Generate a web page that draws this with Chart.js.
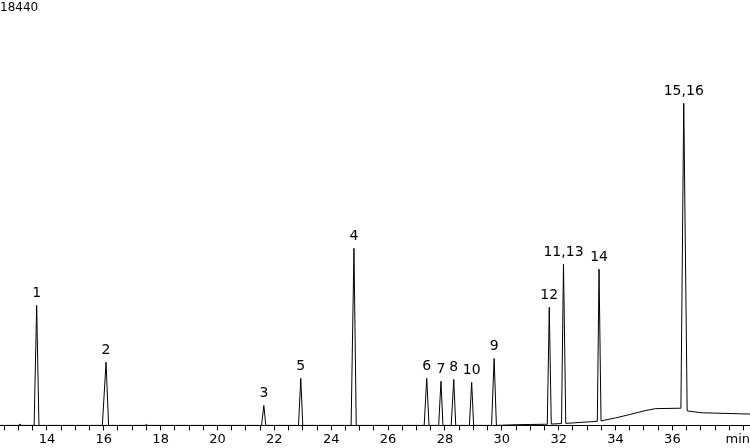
<!DOCTYPE html>
<html>
<head>
<meta charset="utf-8">
<script src="https://cdn.jsdelivr.net/npm/chart.js@4"></script>
<style>
  html, body { margin: 0; padding: 0; background: #fff; }
  #wrap { width: 750px; height: 448px; position: relative; }
</style>
</head>
<body>
<div id="wrap"><canvas id="chrom"></canvas></div>
<script>
// trace points: time (min) and signal
const traceTime = [12.35, 13.0, 13.05, 13.1, 13.55, 13.64, 13.72, 15.95, 16.08, 16.17, 17.45, 17.5, 17.55,
  21.55, 21.63, 21.7, 22.85, 22.93, 23.0, 24.7, 24.8, 24.88,
  27.27, 27.36, 27.44, 27.78, 27.86, 27.93, 28.22, 28.31, 28.38, 28.86, 28.94, 29.01, 29.64, 29.73, 29.81,
  30.5, 31.0, 31.5, 31.6, 31.67, 31.74, 32.1, 32.17, 32.25, 33.36, 33.42, 33.49,
  34.0, 34.5, 35.0, 35.4, 36.3, 36.4, 36.52, 37.0, 38.73];
const traceSignal = [0, 0, 60, 0, 0, 5300, 0, 0, 2790, 0, 0, 40, 0,
  0, 880, 0, 0, 2080, 0, 0, 7820, 0,
  0, 2080, 0, 0, 1950, 0, 0, 2030, 0, 0, 1900, 0, 0, 2960, 0,
  30, 40, 50, 50, 5220, 60, 80, 7120, 90, 180, 6900, 200,
  330, 480, 640, 740, 760, 14230, 640, 560, 500];

// peak labels
const peakNames = ['1', '2', '3', '5', '4', '6', '7', '8', '10', '9', '12', '11,13', '14', '15,16'];
const peakTimes = [13.64, 16.08, 21.63, 22.93, 24.8, 27.36, 27.86, 28.31, 28.94, 29.73, 31.67, 32.17, 33.42, 36.4];
const peakHeights = [5300, 2790, 880, 2080, 7820, 2080, 1950, 2030, 1900, 2960, 5220, 7120, 6900, 14230];

const yMax = 18440;
const xMin = 12.35, xMax = 38.73;

const points = traceTime.map((t, i) => ({ x: t, y: traceSignal[i] }));

/* draws peak names, the scale max and the unit */
const textPlugin = {
  id: 'texts',
  afterDatasetsDraw(chart) {
    const c = chart.ctx;
    const xs = chart.scales.x, ys = chart.scales.y;
    c.save();
    c.fillStyle = '#000';
    c.font = '14px "DejaVu Sans"';
    c.textAlign = 'center';
    c.textBaseline = 'bottom';
    peakNames.forEach((n, i) => {
      c.fillText(n, xs.getPixelForValue(peakTimes[i]), ys.getPixelForValue(peakHeights[i]) - 5);
    });
    c.font = '12px "DejaVu Sans"';
    c.textAlign = 'left';
    c.textBaseline = 'top';
    c.fillText('18440', 0, 2);
    c.font = '13px "DejaVu Sans"';
    c.textAlign = 'right';
    c.fillText('min', 750, 433);
    c.restore();
  }
};

new Chart(document.getElementById('chrom'), {
  type: 'line',
  data: {
    datasets: [{
      data: points,
      borderColor: '#000',
      borderWidth: 1,
      pointRadius: 0,
      tension: 0,
      fill: false
    }]
  },
  options: {
    responsive: true,
    maintainAspectRatio: false,
    animation: false,
    layout: { padding: { top: 8, left: 0, right: 0, bottom: 0 } },
    plugins: { legend: { display: false }, tooltip: { enabled: false } },
    scales: {
      x: {
        type: 'linear',
        min: xMin,
        max: xMax,
        afterBuildTicks(axis) {
          const t = [];
          for (let v = 12.5; v <= 38.5; v += 0.5) t.push({ value: v });
          axis.ticks = t;
        },
        border: { display: true, color: '#000', width: 1 },
        grid: { drawOnChartArea: false, tickLength: 5, color: '#000' },
        ticks: {
          autoSkip: false,
          maxRotation: 0,
          padding: 1,
          color: '#000',
          font: { family: 'DejaVu Sans', size: 13 },
          callback: v => (v % 2 === 0 && v <= 36) ? String(v) : ''
        }
      },
      y: {
        min: 0,
        max: yMax,
        display: false
      }
    }
  },
  plugins: [textPlugin]
});
</script>
</body>
</html>
